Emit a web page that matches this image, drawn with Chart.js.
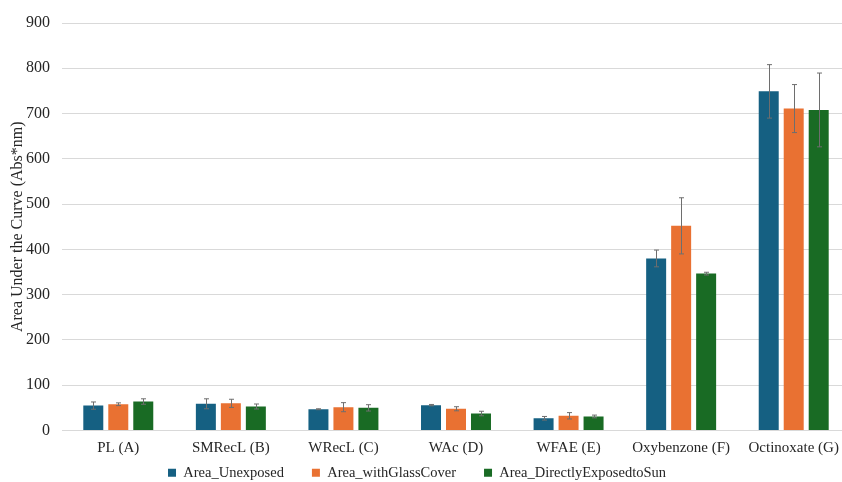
<!DOCTYPE html>
<html>
<head>
<meta charset="utf-8">
<script src="https://cdn.jsdelivr.net/npm/chart.js@4/dist/chart.umd.min.js"></script>
<style>
  html, body { margin: 0; padding: 0; background: #fff; overflow: hidden; }
  #wrap { position: absolute; left: 0; top: 0; width: 858px; height: 482px; }
</style>
</head>
<body>
<div id="wrap"><canvas id="c"></canvas></div>
<script>
// Samples
const categories = ['PL (A)', 'SMRecL (B)', 'WRecL (C)', 'WAc (D)', 'WFAE (E)', 'Oxybenzone (F)', 'Octinoxate (G)'];

// Mean area under the curve (Abs*nm)
const areaUnexposed       = [55, 59, 47, 56, 27, 380, 749];
const areaWithGlassCover  = [58, 60, 51.5, 48, 32.5, 452, 711];
const areaDirectlyExposed = [64, 53, 50, 37.5, 31, 346.5, 708];

// Standard deviations
const errUnexposed       = [8, 11, 1, 1.5, 4, 18.5, 59];
const errWithGlassCover  = [3, 9, 10, 4.5, 7, 62, 53];
const errDirectlyExposed = [6, 5.5, 7, 5, 3, 3, 81.5];

// Y axis ticks
const yTicks = [0, 100, 200, 300, 400, 500, 600, 700, 800, 900];

const FONT = "'Liberation Serif', 'Times New Roman', serif";

// Draws symmetric error bars on top of each bar, using the y scale
const errorBars = {
  id: 'errorBars',
  afterDatasetsDraw(chart) {
    const ctx = chart.ctx;
    const y = chart.scales.y;
    chart.data.datasets.forEach((ds, di) => {
      const meta = chart.getDatasetMeta(di);
      if (meta.hidden) return;
      meta.data.forEach((bar, i) => {
        const v = ds.data[i], e = ds.errors[i];
        const yTop = y.getPixelForValue(v + e);
        const yBot = y.getPixelForValue(v - e);
        const x = Math.round(bar.x) + 0.5;
        ctx.save();
        ctx.strokeStyle = '#6e6e6e';
        ctx.lineWidth = 1;
        ctx.beginPath();
        ctx.moveTo(x, yTop);
        ctx.lineTo(x, yBot);
        ctx.moveTo(x - 2.5, yTop);
        ctx.lineTo(x + 2.5, yTop);
        ctx.moveTo(x - 2.5, yBot);
        ctx.lineTo(x + 2.5, yBot);
        ctx.stroke();
        ctx.restore();
      });
    });
  }
};

// Moves the legend row up (its wide item spacing also inflates its height)
// and a little to the left of the canvas centre
const legendShift = {
  id: 'legendShift',
  afterLayout(chart) {
    const l = chart.legend;
    if (!l) return;
    l.left -= 8; l.right -= 8;
    l.top -= 25; l.bottom -= 25;
  }
};

new Chart(document.getElementById('c'), {
  type: 'bar',
  data: {
    labels: categories,
    datasets: [
      { label: 'Area_Unexposed', data: areaUnexposed, errors: errUnexposed, backgroundColor: '#156082' },
      { label: 'Area_withGlassCover', data: areaWithGlassCover, errors: errWithGlassCover, backgroundColor: '#E97132' },
      { label: 'Area_DirectlyExposedtoSun', data: areaDirectlyExposed, errors: errDirectlyExposed, backgroundColor: '#196B24' }
    ]
  },
  options: {
    responsive: true,
    maintainAspectRatio: false,
    animation: false,
    categoryPercentage: 0.666,
    barPercentage: 0.8,
    layout: { padding: { top: 23, right: 8, left: 0, bottom: -33 } },
    plugins: {
      legend: {
        position: 'bottom',
        labels: {
          font: { family: FONT, size: 14.5 },
          color: '#262626',
          boxWidth: 8,
          boxHeight: 8,
          padding: 28
        }
      },
      tooltip: { enabled: false }
    },
    scales: {
      x: {
        afterFit: (s) => { s.height = 32; },
        grid: { display: false },
        border: { display: true, color: '#d9d9d9', width: 1 },
        ticks: { font: { family: FONT, size: 15 }, color: '#262626', padding: 1, maxRotation: 0 }
      },
      y: {
        min: 0,
        max: 900,
        afterBuildTicks: (s) => { s.ticks = yTicks.map(v => ({ value: v })); },
        afterFit: (s) => { s.width = 62; },
        grid: { color: '#d9d9d9', lineWidth: 1, drawTicks: false },
        border: { display: false },
        ticks: { font: { family: FONT, size: 16 }, color: '#262626', padding: 12 },
        title: {
          display: true,
          text: 'Area Under the Curve (Abs*nm)',
          font: { family: FONT, size: 16 },
          color: '#262626',
          padding: { top: 8, bottom: 0 }
        }
      }
    }
  },
  plugins: [errorBars, legendShift]
});
</script>
</body>
</html>
